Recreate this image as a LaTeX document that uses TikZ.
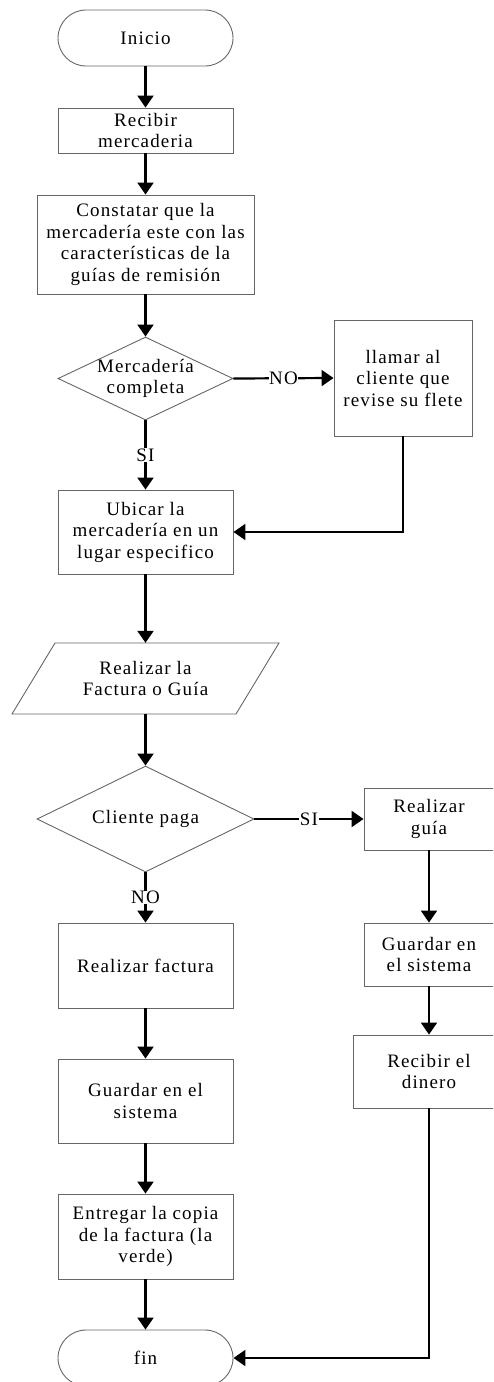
\documentclass[tikz,border=0pt]{standalone}
\usepackage{fontspec}
\setmainfont{Liberation Serif}[LetterSpace=6]
\usetikzlibrary{shapes.geometric,arrows.meta}
\tikzset{
  txt/.style={font=\fontsize{19}{21.5}\selectfont},
  base/.style={draw=black!60, line width=0.9pt, inner sep=0pt, align=center, txt},
  proc/.style={base, rectangle},
  term/.style={base, rectangle, rounded corners=28pt},
  decis/.style={base, diamond, aspect=2},
  lbl/.style={fill=white, inner sep=0.5pt, txt},
  arr/.style={line width=2.2pt, -{Triangle[length=12pt,width=16pt]}}
}
\begin{document}
\begin{tikzpicture}[x=1pt,y=-1pt]
\useasboundingbox (0,0) rectangle (493,1382);
\clip (0,0) rectangle (493,1382);
% left column
\node[term, minimum width=175pt, minimum height=56pt] (inicio) at (145.5,38) {Inicio};
\node[proc, minimum width=175pt, minimum height=45pt] (recibir) at (145.5,130.5) {Recibir\\mercaderia};
\node[proc, minimum width=217pt, minimum height=99pt] (constatar) at (145.5,244.5) {Constatar que la\\mercadería este con las\\características de la\\guías de remisión};
\node[decis, minimum width=175pt, minimum height=83pt] (merc) at (145.5,378.5) {};
\node[align=center, txt, inner sep=0pt] (merct) at (145.5,378.5) {Mercadería\\completa};
\node[proc, minimum width=138pt, minimum height=116pt] (llamar) at (403,378) {llamar al\\cliente que\\revise su flete};
\node[proc, minimum width=175pt, minimum height=84pt] (ubicar) at (145.5,532) {Ubicar la\\mercadería en un\\lugar especifico};
\draw[draw=black!60, line width=0.9pt] (55,643) -- (279,643) -- (236,714) -- (12,714) -- cycle;
\node[inner sep=0pt, minimum width=181pt, minimum height=71pt, align=center, txt] (fac) at (145.5,678.5) {Realizar la\\Factura o Guía};
\node[decis, minimum width=217pt, minimum height=106pt] (cliente) at (145.5,819) {};
\node[txt, inner sep=0pt] (clientet) at (145.5,819) {Cliente paga};
\node[proc, minimum width=130pt, minimum height=62pt] (guia) at (429,819) {Realizar\\guía};
\node[proc, minimum width=130pt, minimum height=63pt] (guardar2) at (429,954.5) {Guardar en\\el sistema};
\node[proc, minimum width=152pt, minimum height=73pt] (dinero) at (429,1071.5) {Recibir el\\dinero};
\node[proc, minimum width=175pt, minimum height=85pt] (factura) at (145.5,965.5) {Realizar factura};
\node[proc, minimum width=175pt, minimum height=84pt] (guardar1) at (145.5,1101) {Guardar en el\\sistema};
\node[proc, minimum width=175pt, minimum height=85pt] (entregar) at (145.5,1236.5) {Entregar la copia\\de la factura (la\\verde)};
\node[term, minimum width=175pt, minimum height=56pt] (fin) at (145.5,1358) {fin};
% connectors
\draw[arr] (inicio.south) -- (recibir.north);
\draw[arr] (recibir.south) -- (constatar.north);
\draw[arr] (constatar.south) -- (merc.north);
\draw[arr] (merc.east) -- node[lbl] {NO} (llamar.west);
\draw[arr] (merc.south) -- node[lbl] {SI} (ubicar.north);
\draw[arr] (llamar.south) |- (ubicar.east);
\draw[arr] (ubicar.south) -- (fac.north);
\draw[arr] (fac.south) -- (cliente.north);
\draw[arr] (cliente.east) -- node[lbl] {SI} (guia.west);
\draw[arr] (cliente.south) -- node[lbl] {NO} (factura.north);
\draw[arr] (guia.south) -- (guardar2.north);
\draw[arr] (guardar2.south) -- (dinero.north);
\draw[arr] (factura.south) -- (guardar1.north);
\draw[arr] (guardar1.south) -- (entregar.north);
\draw[arr] (entregar.south) -- (fin.north);
\draw[arr] (dinero.south) |- (fin.east);
\end{tikzpicture}
\end{document}
